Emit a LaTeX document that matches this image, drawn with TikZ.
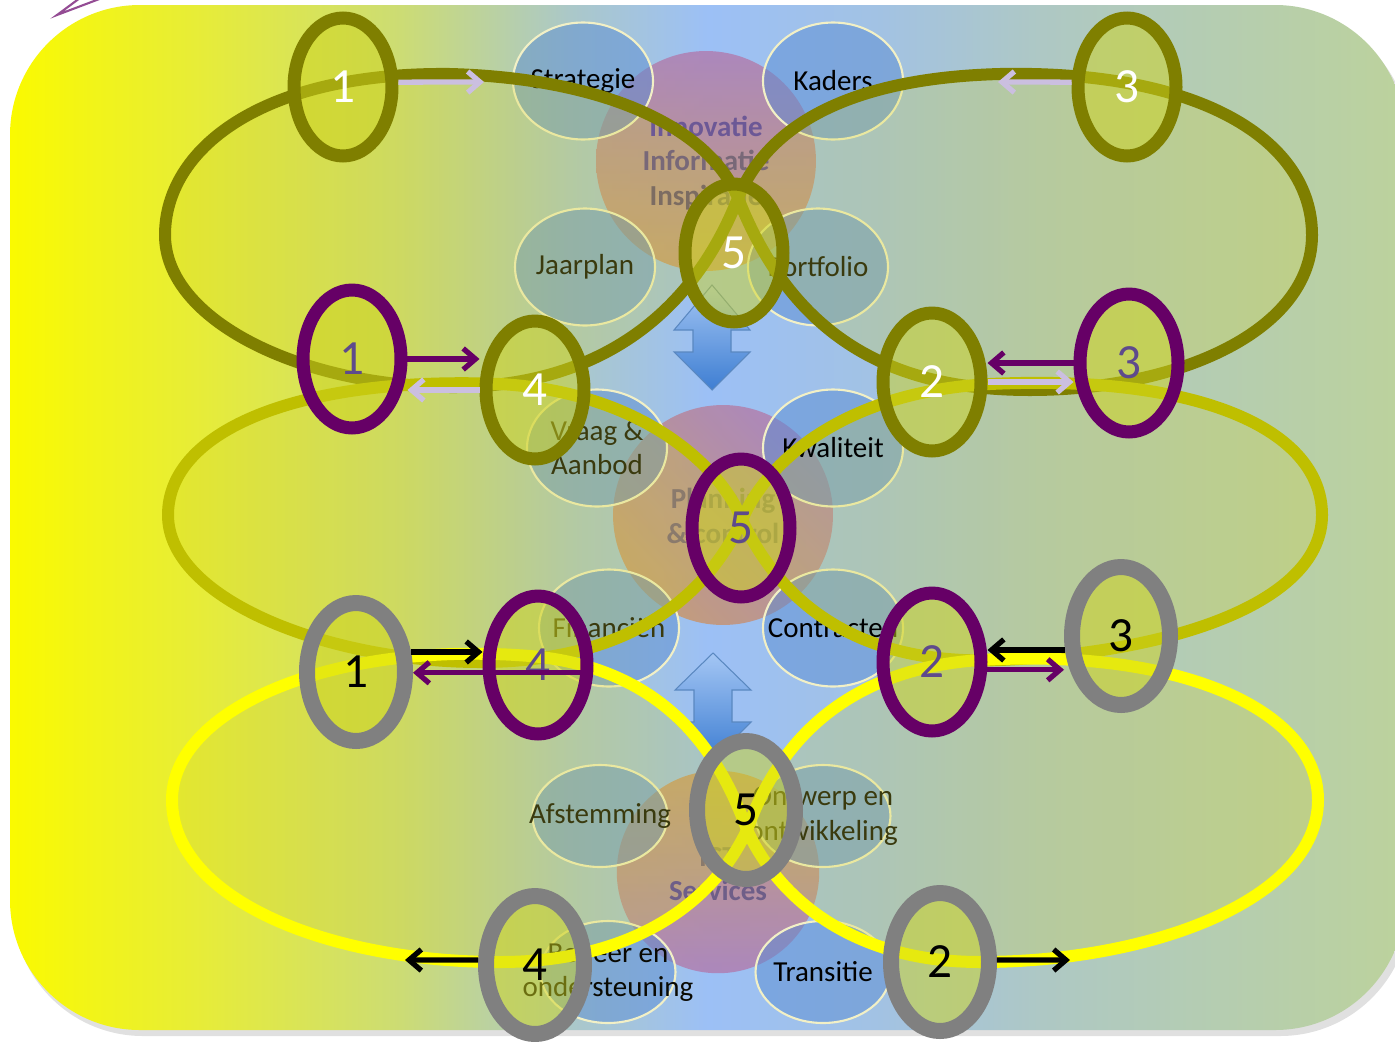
\documentclass[tikz,border=0pt]{standalone}
\usepackage{fontspec}
\setmainfont{Carlito}
\usetikzlibrary{shapes.geometric,arrows.meta}

\definecolor{bg0}{HTML}{FAFA00}
\definecolor{bg1}{HTML}{E6EC3A}
\definecolor{bg2}{HTML}{CCDC74}
\definecolor{bg3}{HTML}{ABC8C8}
\definecolor{bg4}{HTML}{9CC0F6}
\definecolor{bg5}{HTML}{A2C2E4}
\definecolor{bg6}{HTML}{AEC8C4}
\definecolor{bg7}{HTML}{BCD29C}
\definecolor{loopTop}{HTML}{7F7F00}
\definecolor{loopMid}{HTML}{BFBF00}
\definecolor{loopBot}{HTML}{FFFF00}
\definecolor{lobeTint}{HTML}{D2D22A}
\definecolor{ringFill}{HTML}{CED41E}
\definecolor{cPurple}{HTML}{660066}
\definecolor{cGrey}{HTML}{808080}
\definecolor{numPurple}{HTML}{5E4A8C}
\definecolor{cLavender}{HTML}{CBBFE0}
\definecolor{blobBlue}{HTML}{5A8CD2}
\definecolor{blobEdge}{HTML}{F2F0C6}
\definecolor{darkOlive}{HTML}{3A3A0E}
\definecolor{hubPink}{HTML}{B07AAE}
\definecolor{hubOrange}{HTML}{CC9460}
\definecolor{hubTxtA}{HTML}{6C5896}
\definecolor{hubTxtB}{HTML}{786878}
\definecolor{hubTxtC}{HTML}{7C6C62}
\definecolor{hubTxtD}{HTML}{8A7A6C}
\definecolor{hubTxtE}{HTML}{6E5E88}
\definecolor{arrowTop}{HTML}{A4C6F4}
\definecolor{arrowBot}{HTML}{3E7ED2}
\definecolor{arrowEdge}{HTML}{5A88C0}

\pgfdeclarehorizontalshading{bgBand}{100bp}{color(0bp)=(bg0); color(25bp)=(bg0); color(32bp)=(bg1); color(39bp)=(bg2); color(45bp)=(bg3); color(50bp)=(bg4); color(56bp)=(bg5); color(62bp)=(bg6); color(75bp)=(bg7); color(100bp)=(bg7)}

\tikzstyle{ringNode} = [ellipse, line width=0.26cm, minimum width=1.96cm, minimum height=2.76cm, inner sep=0pt, fill=ringFill, fill opacity=0.5, text opacity=1, font=\fontsize{28}{30}\selectfont]
\tikzstyle{ringOlive} = [ringNode, draw=loopTop, text=white]
\tikzstyle{ringPurple} = [ringNode, draw=cPurple, text=numPurple]
\tikzstyle{ringGrey} = [ringNode, draw=cGrey, line width=0.32cm, text=black]
\tikzstyle{blobNode} = [ellipse, draw=blobEdge, line width=1.2pt, fill=blobBlue, fill opacity=0.5, minimum width=2.8cm, minimum height=2.34cm]
\tikzstyle{blobSmall} = [blobNode, minimum width=2.7cm, minimum height=2.04cm]
\tikzstyle{blobText} = [align=center, font=\fontsize{16.5}{19.5}\selectfont, text=darkOlive]
\tikzstyle{hubNode} = [circle, minimum size=4.4cm, inner sep=0pt, fill opacity=0.8]
\tikzstyle{hubText} = [align=center, font=\bfseries\fontsize{16.5}{19.8}\selectfont]
\tikzstyle{loopLine} = [line width=0.24cm, line join=round]
\tikzstyle{blockArrow} = [top color=arrowTop, bottom color=arrowBot, draw=arrowEdge, line width=0.6pt]
\tikzstyle{arrow} = [line width=3pt, -{Straight Barb[length=7pt,width=12pt]}]

% the three figure-eight loops
\newcommand{\figTop}{(738,198) .. controls (768,125) and (850,78) .. (1000,74)
  .. controls (1200,70) and (1312,140) .. (1312,235)
  .. controls (1312,330) and (1180,390) .. (1030,390)
  .. controls (900,390) and (796,345) .. (738,198)
  .. controls (708,125) and (600,78) .. (450,74)
  .. controls (260,72) and (165,150) .. (165,235)
  .. controls (165,320) and (300,386) .. (450,387)
  .. controls (580,388) and (686,330) .. cycle}
\newcommand{\figMid}{(742,520) .. controls (765,465) and (840,392) .. (990,384)
  .. controls (1200,374) and (1322,430) .. (1322,515)
  .. controls (1322,600) and (1180,652) .. (1000,660)
  .. controls (860,666) and (782,605) .. (742,520)
  .. controls (720,465) and (640,392) .. (500,384)
  .. controls (300,376) and (168,430) .. (168,515)
  .. controls (168,600) and (330,662) .. (480,662)
  .. controls (620,662) and (702,605) .. cycle}
\newcommand{\figBot}{(747,830) .. controls (722,760) and (670,668) .. (530,656)
  .. controls (330,640) and (172,710) .. (172,800)
  .. controls (172,900) and (330,962) .. (500,962)
  .. controls (630,962) and (712,905) .. (747,830)
  .. controls (772,760) and (830,670) .. (980,660)
  .. controls (1180,648) and (1318,710) .. (1318,800)
  .. controls (1318,900) and (1150,962) .. (980,962)
  .. controls (860,962) and (782,905) .. cycle}

\begin{document}
\begin{tikzpicture}[x=0.02cm, y=-0.02cm]
  \useasboundingbox (0,0) rectangle (1395,1041);

  % background panel
  \fill[black!12, rounded corners=2.6cm] (13,12) rectangle (1410,1036);
  \path[shading=bgBand, rounded corners=2.6cm] (10,5) rectangle (1405,1030);
  \draw[cPurple!70, line width=1.2pt] (102,-2) -- (57,15) -- (80,-2);

  % hubs
  \node (innov)[hubNode, top color=hubPink, bottom color=hubOrange] at (706,161) {};
  \node (planc)[hubNode, top color=hubPink, bottom color=hubOrange, shading angle=-45] at (723,515) {};
  \node (ictserv)[hubNode, minimum size=4.05cm, top color=hubOrange, bottom color=hubPink] at (718,872) {};

  % satellites
  \node (strat)[blobNode] at (583,81) {};
  \node (kaders)[blobNode] at (833,81) {};
  \node (jaarplan)[blobNode] at (585,267) {};
  \node (portf)[blobNode] at (818,267) {};
  \node (vraag)[blobNode] at (597,448) {};
  \node (kwal)[blobNode] at (833,448) {};
  \node (finan)[blobNode] at (609,628) {};
  \node (contr)[blobNode] at (833,628) {};
  \node (afst)[blobSmall] at (600,816) {};
  \node (ontw)[blobSmall] at (823,816) {};
  \node (beheer)[blobSmall] at (608,972) {};
  \node (trans)[blobSmall] at (823,972) {};

  % tint of the loops
  \fill[lobeTint, fill opacity=0.24] \figTop;
  \fill[lobeTint, fill opacity=0.24] \figMid;
  \fill[lobeTint, fill opacity=0.24] \figBot;

  \node (stratTxt)[blobText, text=black] at (strat) {Strategie};
  \node (kadersTxt)[blobText, text=black] at (kaders) {Kaders};
  \node (jaarplanTxt)[blobText] at (jaarplan) {Jaarplan};
  \node (portfTxt)[blobText] at (portf) {Portfolio};
  \node (vraagTxt)[blobText] at (vraag) {Vraag \&\\Aanbod};
  \node (kwalTxt)[blobText, text=black] at (kwal) {Kwaliteit};
  \node (finanTxt)[blobText] at (finan) {Financiën};
  \node (contrTxt)[blobText, text=black] at (contr) {Contracten};
  \node (afstTxt)[blobText] at (afst) {Afstemming};
  \node (ontwTxt)[blobText] at (ontw) {Ontwerp en\\ontwikkeling};
  \node (beheerTxt)[blobText, text=black!85!darkOlive] at (beheer) {Beheer en\\ondersteuning};
  \node (transTxt)[blobText, text=black] at (trans) {Transitie};

  \node (innovTxt)[hubText] at (706,163) {\textcolor{hubTxtA}{Innovatie}\\\textcolor{hubTxtB}{Informatie}\\\textcolor{hubTxtC}{Inspiratie}};
  \node (plancTxt)[hubText, text=hubTxtD] at (723,516) {Planning\\\& control};
  \node (ictTxt)[hubText] at (718,874) {\textcolor{hubTxtD}{ICT}\\\textcolor{hubTxtE}{Services}};

  % block arrows between the layers
  \draw[blockArrow] (712,285) -- (750,330) -- (731,330) -- (731,352) -- (750,352) -- (712,390)
    -- (674,352) -- (693,352) -- (693,330) -- (674,330) -- cycle;
  \draw[blockArrow] (713,653) -- (751,690) -- (732,690) -- (732,722) -- (751,722) -- (713,760)
    -- (675,722) -- (694,722) -- (694,690) -- (675,690) -- cycle;

  % loops
  \draw[loopLine, draw=loopTop] \figTop;
  \draw[loopLine, draw=loopMid] \figMid;
  \draw[loopLine, draw=loopBot] \figBot;

  % rings
  \node (t1)[ringOlive] at (343,87) {1};
  \node (t3)[ringOlive] at (1127,87) {3};
  \node (t5)[ringOlive] at (734,253) {5};
  \node (t4)[ringOlive] at (535,390) {4};
  \node (t2)[ringOlive] at (932,382) {2};

  \node (m1)[ringPurple] at (352,359) {1};
  \node (m3)[ringPurple] at (1129,363) {3};
  \node (m5)[ringPurple] at (741,528) {5};
  \node (m4)[ringPurple] at (538,665) {4};
  \node (m2)[ringPurple] at (932,662) {2};

  \node (b1)[ringGrey] at (356,672) {1};
  \node (b3)[ringGrey] at (1121,636) {3};
  \node (b5)[ringGrey] at (746,810) {5};
  \node (b4)[ringGrey] at (535,965) {4};
  \node (b2)[ringGrey] at (940,962) {2};

  % hand-over arrows
  \coordinate (stratIn) at (484,82);
  \coordinate (kadersIn) at (998,82);
  \coordinate (outLeft) at (405,960);
  \coordinate (outRight) at (1070,960);

  \draw [arrow, cLavender] (t1.5) -- (stratIn);
  \draw [arrow, cLavender] (t3.175) -- (kadersIn);

  \draw [arrow, cPurple] (m1.east) -- (m1.east -| t4.west);
  \draw [arrow, cLavender] (t4.west) -- (t4.west -| m1.east);
  \draw [arrow, cPurple] (m3.west) -- (m3.west -| t2.east);
  \draw [arrow, cLavender] (t2.east) -- (t2.east -| m3.west);

  \draw [arrow, black] (b1.20) -- (b1.20 -| m4.west);
  \draw [arrow, cPurple] (m4.-8) -- (m4.-8 -| b1.east);
  \draw [arrow, black] (b3.194) -- (b3.194 -| m2.east);
  \draw [arrow, cPurple] (m2.-8) -- (m2.-8 -| b3.west);

  \draw [arrow, black] (b4.175) -- (outLeft);
  \draw [arrow, black] (b2.2) -- (outRight);
\end{tikzpicture}
\end{document}
